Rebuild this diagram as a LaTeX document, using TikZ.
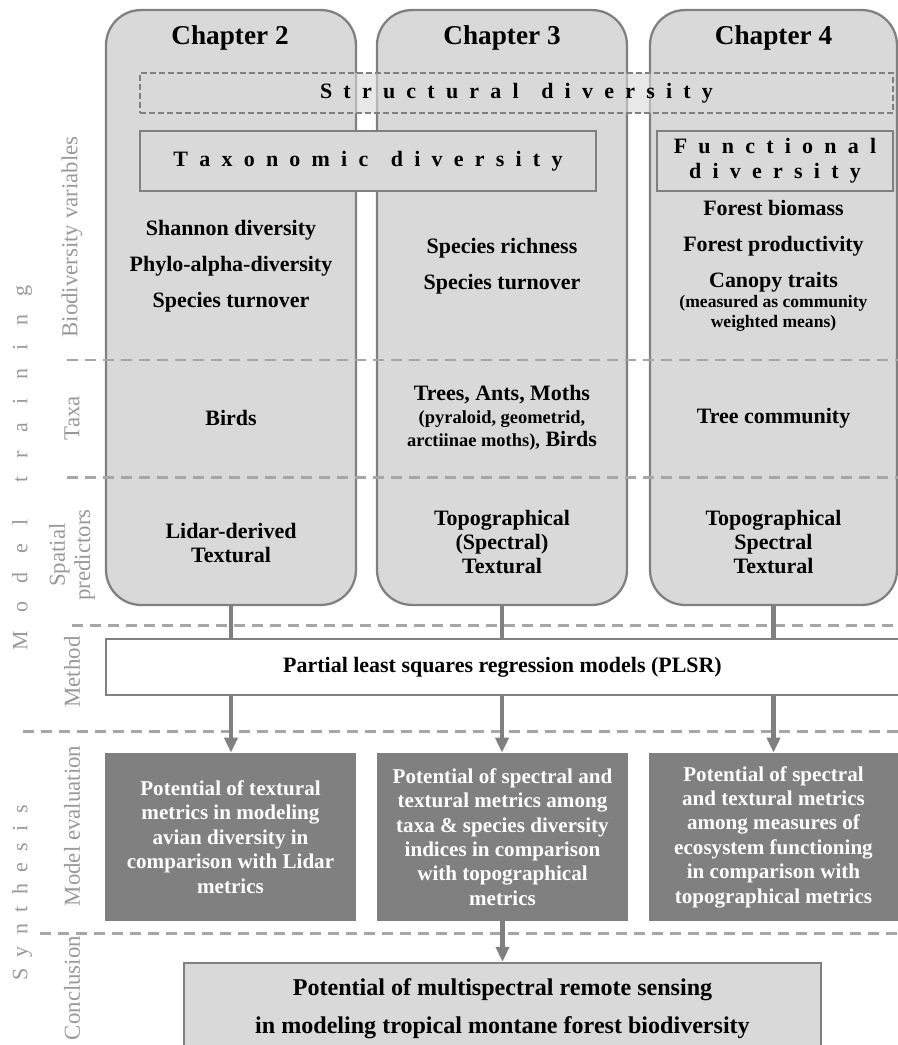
\documentclass[tikz,border=0pt]{standalone}
\usepackage{fontspec}
\setmainfont{Liberation Serif}
\usepackage{xcolor}
\usetikzlibrary{arrows.meta, positioning}
\newcommand{\espacement}[1]{\spaceskip #1\relax}

\tikzset{
  chapbox/.style={draw=gray, line width=1.3pt, fill=gray!30, rounded corners=0.7cm,
    minimum width=5cm, minimum height=11.9cm},
  titre/.style={font=\fontsize{15.5}{18}\selectfont\bfseries},
  txt/.style={align=center, font=\fontsize{12.5}{20.5}\selectfont\bfseries},
  petit/.style={align=center, font=\fontsize{10}{11.4}\selectfont\bfseries},
  espace/.style={font=\fontsize{12.5}{14}\selectfont\bfseries\espacement{6.4pt}},
  structbox/.style={espace, draw=gray, dash pattern=on 0.12cm off 0.06cm, line width=1.1pt,
    fill=gray!30, fill opacity=0.6, text opacity=1, minimum width=15.06cm, minimum height=0.8cm},
  varbox/.style={espace, draw=gray, line width=1.3pt, fill=gray!30, minimum height=1.2cm},
  methbox/.style={draw=gray, line width=1.3pt, fill=white, minimum height=1.12cm,
    font=\fontsize{12.5}{14}\selectfont\bfseries},
  evalbox/.style={fill=gray, text=white, align=center, minimum height=3.36cm,
    font=\fontsize{12}{13.9}\selectfont\bfseries},
  conclbox/.style={draw=gray, line width=1.3pt, fill=gray!30, align=center,
    minimum width=12.74cm, minimum height=1.84cm, font=\fontsize{13.7}{21.6}\selectfont\bfseries},
  etiq/.style={text=gray!80, rotate=90, font=\fontsize{13}{14.5}\selectfont},
  etiqgrand/.style={text=gray!80, rotate=90, font=\fontsize{12.5}{14}\selectfont\espacement{10.5pt}},
  sep/.style={gray!70, line width=1.7pt, dash pattern=on 0.22cm off 0.14cm},
  lien/.style={gray, line width=2.7pt},
  fleche/.style={lien, -{Triangle[length=0.3cm, width=0.26cm]}}
}

\begin{document}
\begin{tikzpicture}[x=0.02cm, y=-0.02cm]
  \clip (0,0) rectangle (898,1045);
  % Chapitres
  \node[chapbox] (ch2) at (231,307.5) {};
  \node[chapbox] (ch3) at (502,307.5) {};
  \node[chapbox, minimum width=4.94cm] (ch4) at (773.5,307.5) {};
  \node[titre] (t2) at (230,38) {Chapter 2};
  \node[titre] (t3) at (502,38) {Chapter 3};
  \node[titre] (t4) at (773.5,38) {Chapter 4};
  % Variables de biodiversité
  \node[structbox] (struct) at (516.5,93) {S t r u c t u r a l\ \ d i v e r s i t y};
  \node[varbox, minimum width=9.12cm] (taxo) at (368,161) {T a x o n o m i c\ \ d i v e r s i t y};
  \node[varbox, minimum width=4.72cm, align=center] (fonc) at (775,161)
    {F u n c t i o n a l\\d i v e r s i t y};
  \node[txt] (var2) at (231,266) {Shannon diversity\\Phylo-alpha-diversity\\Species turnover};
  \node[txt] (var3) at (502,266) {Species richness\\Species turnover};
  \node[txt] (var4) at (773.5,246) {Forest biomass\\Forest productivity\\Canopy traits};
  \node[petit] (cwm) at (773.5,313) {(measured as community\\weighted means)};
  % Taxons
  \node[align=center, font=\fontsize{12.5}{13}\selectfont\bfseries] (taxa3) at (502,418)
    {Trees, Ants, Moths\\{\fontsize{10.5}{13}\selectfont(pyraloid, geometrid,}\\
     {\fontsize{10.5}{13}\selectfont arctiinae moths),} Birds};
  \node[txt] (taxa2) at (231,418) {Birds};
  \node[txt] (taxa4) at (773.5,418) {Tree community};
  % Prédicteurs spatiaux
  \node[txt, font=\fontsize{12.5}{13.8}\selectfont\bfseries] (pred2) at (231,543) {Lidar-derived\\Textural};
  \node[txt, font=\fontsize{12.5}{13.8}\selectfont\bfseries] (pred3) at (502,542) {Topographical\\(Spectral)\\Textural};
  \node[txt, font=\fontsize{12.5}{13.8}\selectfont\bfseries] (pred4) at (773.5,542) {Topographical\\Spectral\\Textural};
  % Méthode et évaluation
  \node[methbox, minimum width=15.86cm] (plsr) at (502.5,667) {Partial least squares regression models (PLSR)};
  \node[evalbox, minimum width=5.02cm] (eval2) at (230.5,837)
    {Potential of textural\\metrics in modeling\\avian diversity in\\comparison with Lidar\\metrics};
  \node[evalbox, minimum width=5.02cm] (eval3) at (502.5,837)
    {Potential of spectral and\\textural metrics among\\taxa \& species diversity\\indices in comparison\\with topographical\\metrics};
  \node[evalbox, minimum width=4.98cm] (eval4) at (773.5,837)
    {Potential of spectral\\and textural metrics\\among measures of\\ecosystem functioning\\in comparison with\\topographical metrics};
  \node[conclbox] (concl) at (502.5,1009)
    {Potential of multispectral remote sensing\\in modeling tropical montane forest biodiversity};
  % Séparateurs
  \draw[sep] (67,360) -- (898,360);
  \draw[sep] (67,477) -- (898,477);
  \draw[sep] (72,625) -- (898,625);
  \draw[sep] (23,731) -- (898,731);
  \draw[sep] (40,933) -- (898,933);
  % Liens
  \foreach \c in {2,3,4} {
    \draw[lien] (ch\c.south) -- (ch\c.south |- plsr.north);
    \draw[fleche] (ch\c.south |- plsr.south) -- (ch\c.south |- eval\c.north);
  }
  \draw[fleche] (eval3.south) -- (eval3.south |- concl.north);
  % Étiquettes
  \node[etiqgrand] (ltrain) at (22,468) {M o d e l\ \ t r a i n i n g};
  \node[etiqgrand, font=\fontsize{12.5}{14}\selectfont\espacement{6.5pt}] (lsynth) at (22,893) {S y n t h e s i s};
  \node[etiq] (lbio) at (72,237) {Biodiversity variables};
  \node[etiq] (ltaxa) at (72,418) {Taxa};
  \node[etiq, align=center] (lpred) at (72,555) {Spatial\\predictors};
  \node[etiq] (lmeth) at (72,672) {Method};
  \node[etiq] (leval) at (72,826) {Model evaluation};
  \node[etiq] (lconc) at (72,988) {Conclusion};
\end{tikzpicture}
\end{document}
